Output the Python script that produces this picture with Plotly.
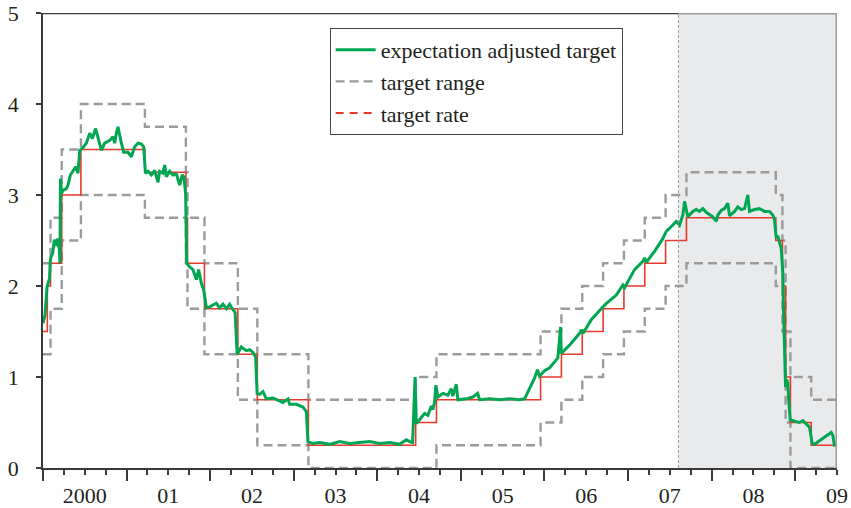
import plotly.graph_objects as go
import pandas as pd

# ---------------- data ----------------
# SNB 3-month Libor target range (lower / upper bound), change dates
range_dates = ["2000-01-01", "2000-02-03", "2000-03-23", "2000-06-15", "2001-03-22",
               "2001-09-17", "2001-09-24", "2001-12-07", "2002-05-02", "2002-07-26",
               "2003-03-06", "2004-06-17", "2004-09-16", "2005-12-15", "2006-03-16",
               "2006-06-15", "2006-09-14", "2006-12-14", "2007-03-15", "2007-06-14",
               "2007-09-13", "2008-10-08", "2008-11-06", "2008-11-20", "2008-12-11",
               "2009-03-12"]
range_lower = [1.25, 1.75, 2.5, 3.0, 2.75, 2.25, 1.75, 1.25, 0.75, 0.25,
               0.0, 0.0, 0.25, 0.5, 0.75, 1.0, 1.25, 1.5, 1.75, 2.0,
               2.25, 2.0, 1.5, 0.5, 0.0, 0.0]
range_upper = [2.25, 2.75, 3.5, 4.0, 3.75, 3.25, 2.75, 2.25, 1.75, 1.25,
               0.75, 1.0, 1.25, 1.5, 1.75, 2.0, 2.25, 2.5, 2.75, 3.0,
               3.25, 3.0, 2.5, 1.5, 1.0, 0.75]

# target rate
rate_dates = ["2000-01-01", "2000-01-20", "2000-02-03", "2000-03-23", "2000-06-15",
              "2001-03-22", "2001-09-17", "2001-09-24", "2001-12-07", "2002-05-02",
              "2002-07-26", "2003-03-06", "2004-06-17", "2004-09-16", "2005-12-15",
              "2006-03-16", "2006-06-15", "2006-09-14", "2006-12-14", "2007-03-15",
              "2007-06-14", "2007-09-13", "2008-10-08", "2008-11-06", "2008-11-20",
              "2008-12-11", "2009-03-12"]
rate_values = [1.5, 2.0, 2.25, 3.0, 3.5, 3.25, 2.75, 2.25, 1.75, 1.25,
               0.75, 0.25, 0.5, 0.75, 1.0, 1.25, 1.5, 1.75, 2.0, 2.25,
               2.5, 2.75, 2.5, 2.0, 1.0, 0.5, 0.25]

series_end = "2009-06-30"
crisis_start = "2007-08-09"

# expectation adjusted target (decimal year, percent)
green_year = [2000.000, 2000.024, 2000.048, 2000.077, 2000.089, 2000.116, 2000.136, 2000.156,
              2000.176, 2000.196, 2000.203, 2000.209, 2000.224, 2000.239, 2000.280, 2000.299,
              2000.328, 2000.359, 2000.391, 2000.419, 2000.439, 2000.478, 2000.519, 2000.559,
              2000.591, 2000.630, 2000.658, 2000.699, 2000.738, 2000.798, 2000.837, 2000.858,
              2000.878, 2000.897, 2000.938, 2000.965, 2001.017, 2001.057, 2001.097, 2001.136,
              2001.177, 2001.205, 2001.225, 2001.256, 2001.297, 2001.336, 2001.376, 2001.396,
              2001.435, 2001.456, 2001.476, 2001.516, 2001.555, 2001.596, 2001.635, 2001.667,
              2001.687, 2001.707, 2001.719, 2001.755, 2001.794, 2001.835, 2001.862, 2001.895,
              2001.922, 2001.955, 2001.994, 2002.074, 2002.114, 2002.153, 2002.194, 2002.233,
              2002.273, 2002.299, 2002.323, 2002.373, 2002.433, 2002.472, 2002.512, 2002.544,
              2002.562, 2002.592, 2002.632, 2002.672, 2002.751, 2002.831, 2002.871, 2002.931,
              2002.951, 2003.031, 2003.110, 2003.151, 2003.170, 2003.226, 2003.310, 2003.429,
              2003.549, 2003.669, 2003.788, 2003.908, 2004.028, 2004.148, 2004.267, 2004.347,
              2004.386, 2004.422, 2004.452, 2004.467, 2004.506, 2004.566, 2004.605, 2004.646,
              2004.665, 2004.685, 2004.701, 2004.725, 2004.785, 2004.844, 2004.885, 2004.904,
              2004.945, 2004.964, 2005.065, 2005.144, 2005.200, 2005.224, 2005.343, 2005.463,
              2005.583, 2005.702, 2005.762, 2005.822, 2005.882, 2005.917, 2005.941, 2006.001,
              2006.061, 2006.160, 2006.193, 2006.201, 2006.300, 2006.420, 2006.444, 2006.462,
              2006.560, 2006.679, 2006.731, 2006.859, 2006.938, 2006.958, 2007.078, 2007.177,
              2007.198, 2007.218, 2007.317, 2007.416, 2007.457, 2007.536, 2007.576, 2007.616,
              2007.656, 2007.676, 2007.715, 2007.775, 2007.816, 2007.855, 2007.895, 2007.935,
              2007.975, 2008.014, 2008.055, 2008.074, 2008.115, 2008.154, 2008.194, 2008.214,
              2008.274, 2008.313, 2008.354, 2008.394, 2008.433, 2008.453, 2008.513, 2008.573,
              2008.633, 2008.693, 2008.732, 2008.752, 2008.773, 2008.792, 2008.833, 2008.852,
              2008.860, 2008.872, 2008.884, 2008.900, 2008.911, 2008.923, 2008.940, 2009.012,
              2009.051, 2009.091, 2009.131, 2009.171, 2009.203, 2009.231, 2009.431, 2009.450,
              2009.469, 2009.490]
green_value = [1.59, 1.68, 1.99, 2.08, 2.30, 2.36, 2.51, 2.44,
               2.52, 2.40, 2.25, 3.18, 3.02, 3.05, 3.07, 3.11,
               3.22, 3.26, 3.31, 3.24, 3.49, 3.52, 3.57, 3.68,
               3.62, 3.73, 3.64, 3.49, 3.57, 3.60, 3.64, 3.57,
               3.68, 3.75, 3.57, 3.47, 3.47, 3.42, 3.53, 3.57,
               3.56, 3.53, 3.24, 3.26, 3.22, 3.27, 3.14, 3.26,
               3.24, 3.33, 3.20, 3.26, 3.22, 3.23, 3.11, 3.22,
               3.20, 3.00, 2.25, 2.21, 2.18, 2.07, 2.18, 2.03,
               1.96, 1.76, 1.77, 1.81, 1.76, 1.80, 1.75, 1.80,
               1.74, 1.71, 1.25, 1.33, 1.29, 1.30, 1.27, 1.22,
               0.82, 0.81, 0.84, 0.76, 0.77, 0.74, 0.72, 0.76,
               0.70, 0.70, 0.67, 0.62, 0.29, 0.27, 0.28, 0.26,
               0.29, 0.27, 0.28, 0.29, 0.27, 0.28, 0.26, 0.31,
               0.29, 0.28, 1.00, 0.49, 0.53, 0.60, 0.58, 0.68,
               0.64, 0.73, 0.91, 0.78, 0.82, 0.80, 0.87, 0.79,
               0.92, 0.75, 0.76, 0.78, 0.82, 0.75, 0.76, 0.75,
               0.76, 0.75, 0.76, 0.88, 0.99, 1.08, 1.01, 1.07,
               1.10, 1.21, 1.55, 1.26, 1.35, 1.48, 1.52, 1.48,
               1.63, 1.75, 1.80, 1.90, 2.01, 1.98, 2.18, 2.27,
               2.31, 2.26, 2.38, 2.52, 2.60, 2.67, 2.71, 2.67,
               2.78, 2.93, 2.76, 2.82, 2.84, 2.82, 2.85, 2.81,
               2.78, 2.76, 2.71, 2.78, 2.83, 2.85, 2.91, 2.77,
               2.82, 2.87, 2.84, 2.85, 3.00, 2.82, 2.84, 2.85,
               2.82, 2.82, 2.78, 2.73, 2.53, 2.55, 2.41, 2.15,
               1.75, 1.24, 0.89, 0.97, 0.93, 0.74, 0.53, 0.51,
               0.50, 0.52, 0.48, 0.45, 0.27, 0.26, 0.39, 0.36,
               0.25, 0.25]

year_ticks = list(range(2000, 2010))
year_labels = ["2000", "01", "02", "03", "04", "05", "06", "07", "08", "09"]
y_ticks = [0, 1, 2, 3, 4, 5]


# ---------------- helpers ----------------
def dec_year(s):
    d = pd.Timestamp(s)
    start = pd.Timestamp(year=d.year, month=1, day=1)
    n = 366 if d.is_leap_year else 365
    return d.year + (d - start).days / n


def step_xy(dates, vals, end):
    x = [dec_year(d) for d in dates] + [dec_year(end)]
    y = list(vals) + [vals[-1]]
    return x, y


X0, X1 = 2000.0, 2009.5
FONT = "Liberation Serif"
TXT = "#231f20"
GREEN = "#00a651"
RED = "#e8392b"
GRAY = "#9b9b9b"
AXIS = "#3a3a3a"

fig = go.Figure()

xl, yl = step_xy(range_dates, range_lower, series_end)
xu, yu = step_xy(range_dates, range_upper, series_end)
xr, yr = step_xy(rate_dates, rate_values, series_end)

fig.add_trace(go.Scatter(x=xu, y=yu, mode="lines", line=dict(color=GRAY, width=2.4, dash="9px,5px", shape="hv"),
                         name="target range", legendgroup="range", legendrank=2))
fig.add_trace(go.Scatter(x=xl, y=yl, mode="lines", line=dict(color=GRAY, width=2.4, dash="9px,5px", shape="hv"),
                         name="target range", legendgroup="range", showlegend=False))
fig.add_trace(go.Scatter(x=xr, y=yr, mode="lines", line=dict(color=RED, width=1.6, shape="hv"),
                         name="target rate", showlegend=False))
fig.add_trace(go.Scatter(x=green_year, y=green_value, mode="lines", line=dict(color=GREEN, width=3),
                         name="expectation adjusted target", legendrank=1))
# legend sample for the target rate (dashed in legend)
fig.add_trace(go.Scatter(x=[None], y=[None], mode="lines", line=dict(color=RED, width=2, dash="8px,6px"),
                         name="target rate", legendrank=3))

cs = dec_year(crisis_start)
shapes = [
    dict(type="rect", xref="x", yref="y", x0=cs, x1=X1, y0=0, y1=5, fillcolor="#e9eaec",
         line=dict(width=0), layer="below"),
    dict(type="line", xref="x", yref="y", x0=cs, x1=cs, y0=0, y1=5,
         line=dict(color="#9a9a9a", width=1, dash="3px,2px"), layer="above"),
    dict(type="line", xref="x", yref="y", x0=cs, x1=X1, y0=5, y1=5,
         line=dict(color="#9a9a9a", width=3), layer="above"),
    dict(type="line", xref="x", yref="y", x0=X1, x1=X1, y0=0, y1=5,
         line=dict(color="#9a9a9a", width=3), layer="above"),
    dict(type="line", xref="x", yref="y", x0=X0, x1=cs, y0=5, y1=5,
         line=dict(color=AXIS, width=2.5), layer="above"),
]

quarters = [y + q / 4 for y in range(2000, 2010) for q in (1, 2, 3)]

fig.update_layout(
    width=851, height=508,
    margin=dict(l=43, r=14, t=13, b=40, autoexpand=False),
    paper_bgcolor="white", plot_bgcolor="white",
    font=dict(family=FONT, color=TXT, size=22),
    shapes=shapes,
    showlegend=True,
    legend=dict(x=0.361, y=0.967, xanchor="left", yanchor="top",
                bgcolor="white", bordercolor="#444444", borderwidth=1,
                font=dict(family=FONT, size=22, color=TXT),
                traceorder="normal", itemwidth=40),
    xaxis=dict(range=[X0, X1], showgrid=False, zeroline=False, automargin=False,
               showline=True, linecolor=AXIS, linewidth=1.5,
               tickvals=year_ticks, ticktext=[""] * len(year_ticks),
               ticks="outside", ticklen=11, tickwidth=1.5, tickcolor=AXIS,
               minor=dict(tickvals=quarters, ticks="outside", ticklen=5,
                          tickwidth=1.5, tickcolor=AXIS, showgrid=False)),
    xaxis2=dict(range=[X0, X1], overlaying="x", anchor="y", side="bottom", automargin=False,
                showgrid=False, zeroline=False, showline=False,
                tickvals=[y + 0.5 for y in year_ticks], ticktext=year_labels,
                ticks="", ticklabelstandoff=12,
                tickfont=dict(family=FONT, size=22, color=TXT)),
    yaxis=dict(range=[0, 5], showgrid=False, zeroline=False, automargin=False,
               showline=True, linecolor=AXIS, linewidth=1.5,
               tickvals=y_ticks, ticks="outside", ticklen=5, tickwidth=1.5,
               tickcolor=AXIS, ticklabelstandoff=13,
               tickfont=dict(family=FONT, size=22, color=TXT)),
)

# invisible trace to activate the label axis
fig.add_trace(go.Scatter(x=[X0], y=[None], xaxis="x2", showlegend=False, hoverinfo="skip"))

fig.write_html("out.html", config={"displayModeBar": False},
               post_script="document.body.style.margin='0';document.body.style.overflow='hidden';")
